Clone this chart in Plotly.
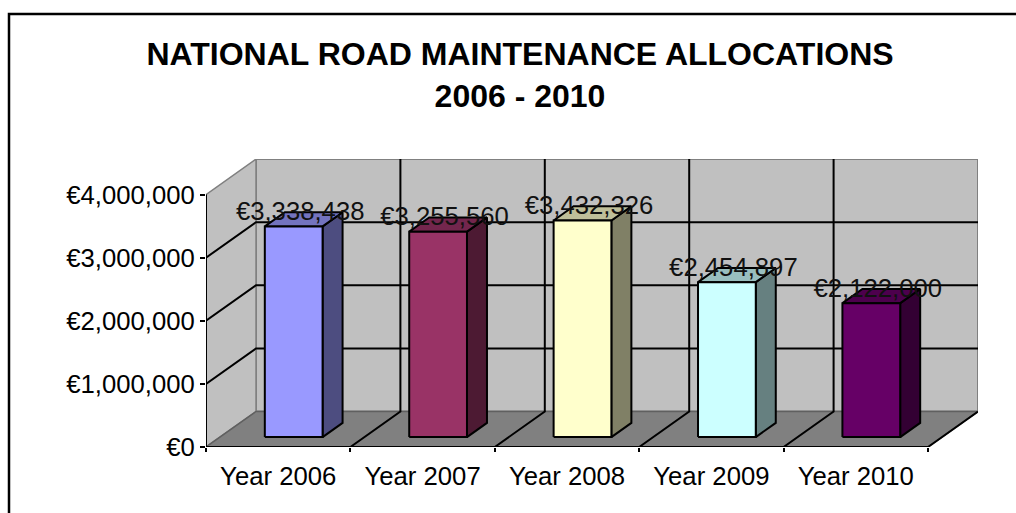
import plotly.graph_objects as go

categories = ["Year 2006", "Year 2007", "Year 2008", "Year 2009", "Year 2010"]
values = [3338438, 3255560, 3432326, 2454897, 2122000]
y_ticks = [0, 1000000, 2000000, 3000000, 4000000]
title_text = "NATIONAL ROAD MAINTENANCE ALLOCATIONS<br>2006 - 2010"

front_colors = ["#9999FF", "#993366", "#FFFFCC", "#CCFFFF", "#660066"]
side_colors = ["#4D4D80", "#4D1A33", "#808066", "#668080", "#330033"]
top_colors = ["#7373BF", "#73264D", "#BFBF99", "#99BFBF", "#4D004D"]

W, H = 1016, 513
M_L, M_R, M_T, M_B = 206, 38, 159, 66
PX_X = 144.4
PX_Y = 63.1 / 1e6
DX = 50 / PX_X
DY = 35.5 / PX_Y
BAR_W = 0.4
BAR_SHIFT = 1.5 / PX_X
D_FRONT, D_BACK = 0.28, 0.68
LABEL_DX = 6.5 / PX_X
LABEL_DY = 13 / PX_Y
Y_MAX = max(y_ticks)
N = len(categories)
BLACK = "#000000"
LW = 2


def proj(x, y, d):
    return x + d * DX, y + d * DY


def poly(points, fill, line, width=LW):
    pts = [proj(*p) for p in points]
    xs = [p[0] for p in pts] + [pts[0][0]]
    ys = [p[1] for p in pts] + [pts[0][1]]
    return go.Scatter(x=xs, y=ys, mode="lines", fill="toself", fillcolor=fill,
                      line=dict(color=line, width=width), hoverinfo="skip",
                      showlegend=False, cliponaxis=False)


def seg(points, color=BLACK, width=LW):
    pts = [proj(*p) for p in points]
    return go.Scatter(x=[p[0] for p in pts], y=[p[1] for p in pts], mode="lines",
                      line=dict(color=color, width=width), hoverinfo="skip",
                      showlegend=False, cliponaxis=False)


fig = go.Figure()

# Walls and floor
fig.add_trace(poly([(0, 0, 1), (N, 0, 1), (N, Y_MAX, 1), (0, Y_MAX, 1)], "#C0C0C0", "#808080", 2))
fig.add_trace(poly([(0, 0, 0), (0, 0, 1), (0, Y_MAX, 1), (0, Y_MAX, 0)], "#C0C0C0", "#808080", 1.5))
fig.add_trace(poly([(0, 0, 0), (N, 0, 0), (N, 0, 1), (0, 0, 1)], "#808080", "#606060", 1.5))

# Gridlines
for t in y_ticks[1:-1]:
    fig.add_trace(seg([(0, t, 0), (0, t, 1), (N, t, 1)]))
for i in range(1, N):
    fig.add_trace(seg([(i, 0, 0), (i, 0, 1), (i, Y_MAX, 1)]))
fig.add_trace(seg([(N, 0, 0), (N, 0, 1)]))

# Bars
for i, v in enumerate(values):
    c = i + 0.5 + BAR_SHIFT
    x0, x1 = c - BAR_W / 2, c + BAR_W / 2
    fig.add_trace(poly([(x1, 0, D_FRONT), (x1, 0, D_BACK), (x1, v, D_BACK), (x1, v, D_FRONT)], side_colors[i], BLACK))
    fig.add_trace(poly([(x0, v, D_FRONT), (x1, v, D_FRONT), (x1, v, D_BACK), (x0, v, D_BACK)], top_colors[i], BLACK))
    fig.add_trace(poly([(x0, 0, D_FRONT), (x1, 0, D_FRONT), (x1, v, D_FRONT), (x0, v, D_FRONT)], front_colors[i], BLACK))

# Front axis lines
fig.add_trace(seg([(0, 0, 0), (0, Y_MAX, 0)]))
fig.add_trace(seg([(0, 0, 0), (N, 0, 0)]))

# Data labels
label_x = []
label_y = []
for i, v in enumerate(values):
    bx, by = proj(i + 0.5 + BAR_SHIFT, v, D_FRONT)
    label_x.append(bx + LABEL_DX)
    label_y.append(by + LABEL_DY)
fig.add_trace(go.Scatter(x=label_x, y=label_y, mode="text",
                         text=[f"€{v:,}" for v in values], textposition="middle center",
                         textfont=dict(family="Liberation Sans, Arial", size=25.7, color="#111111"),
                         hoverinfo="skip", showlegend=False, cliponaxis=False))

plot_w = W - M_L - M_R
plot_h = H - M_T - M_B
tick_font = dict(family="Liberation Sans, Arial", size=25.7, color=BLACK)

fig.update_layout(
    width=W, height=H, autosize=False,
    margin=dict(l=M_L, r=M_R, t=M_T, b=M_B, pad=0),
    paper_bgcolor="#FFFFFF", plot_bgcolor="rgba(0,0,0,0)",
    showlegend=False,
    title=dict(text=title_text, x=520 / W, xanchor="center", xref="container",
               y=1 - 65 / H, yanchor="middle",
               font=dict(family="Liberation Sans, Arial", size=32, color=BLACK, weight="bold")),
    xaxis=dict(range=[0, plot_w / PX_X], tickvals=[i + 0.5 for i in range(N)], ticktext=categories,
               showgrid=False, zeroline=False, showline=False, ticks="", tickfont=tick_font,
               ticklabelstandoff=11,
               minor=dict(tick0=0, dtick=1, ticks="outside", ticklen=4, tickwidth=2, tickcolor=BLACK, showgrid=False),
               automargin=False, fixedrange=True),
    yaxis=dict(range=[0, plot_h / PX_Y], tickvals=y_ticks, ticktext=[f"€{t:,}" for t in y_ticks],
               showgrid=False, zeroline=False, showline=False, ticks="outside", ticklen=5, tickwidth=2,
               tickcolor=BLACK, tickfont=tick_font, automargin=False, fixedrange=True),
    shapes=[dict(type="path", xref="paper", yref="paper", layer="below",
                 path=f"M {(9 - M_L) / plot_w} {(H - M_B - 520) / plot_h} L {(9 - M_L) / plot_w} {(H - M_B - 14) / plot_h} "
                      f"L {(1030 - M_L) / plot_w} {(H - M_B - 14) / plot_h}",
                 line=dict(color=BLACK, width=2.5))],
)

fig.write_html("out.html", config={"displayModeBar": False},
               post_script="document.body.style.margin='0';document.body.style.overflow='hidden';")
